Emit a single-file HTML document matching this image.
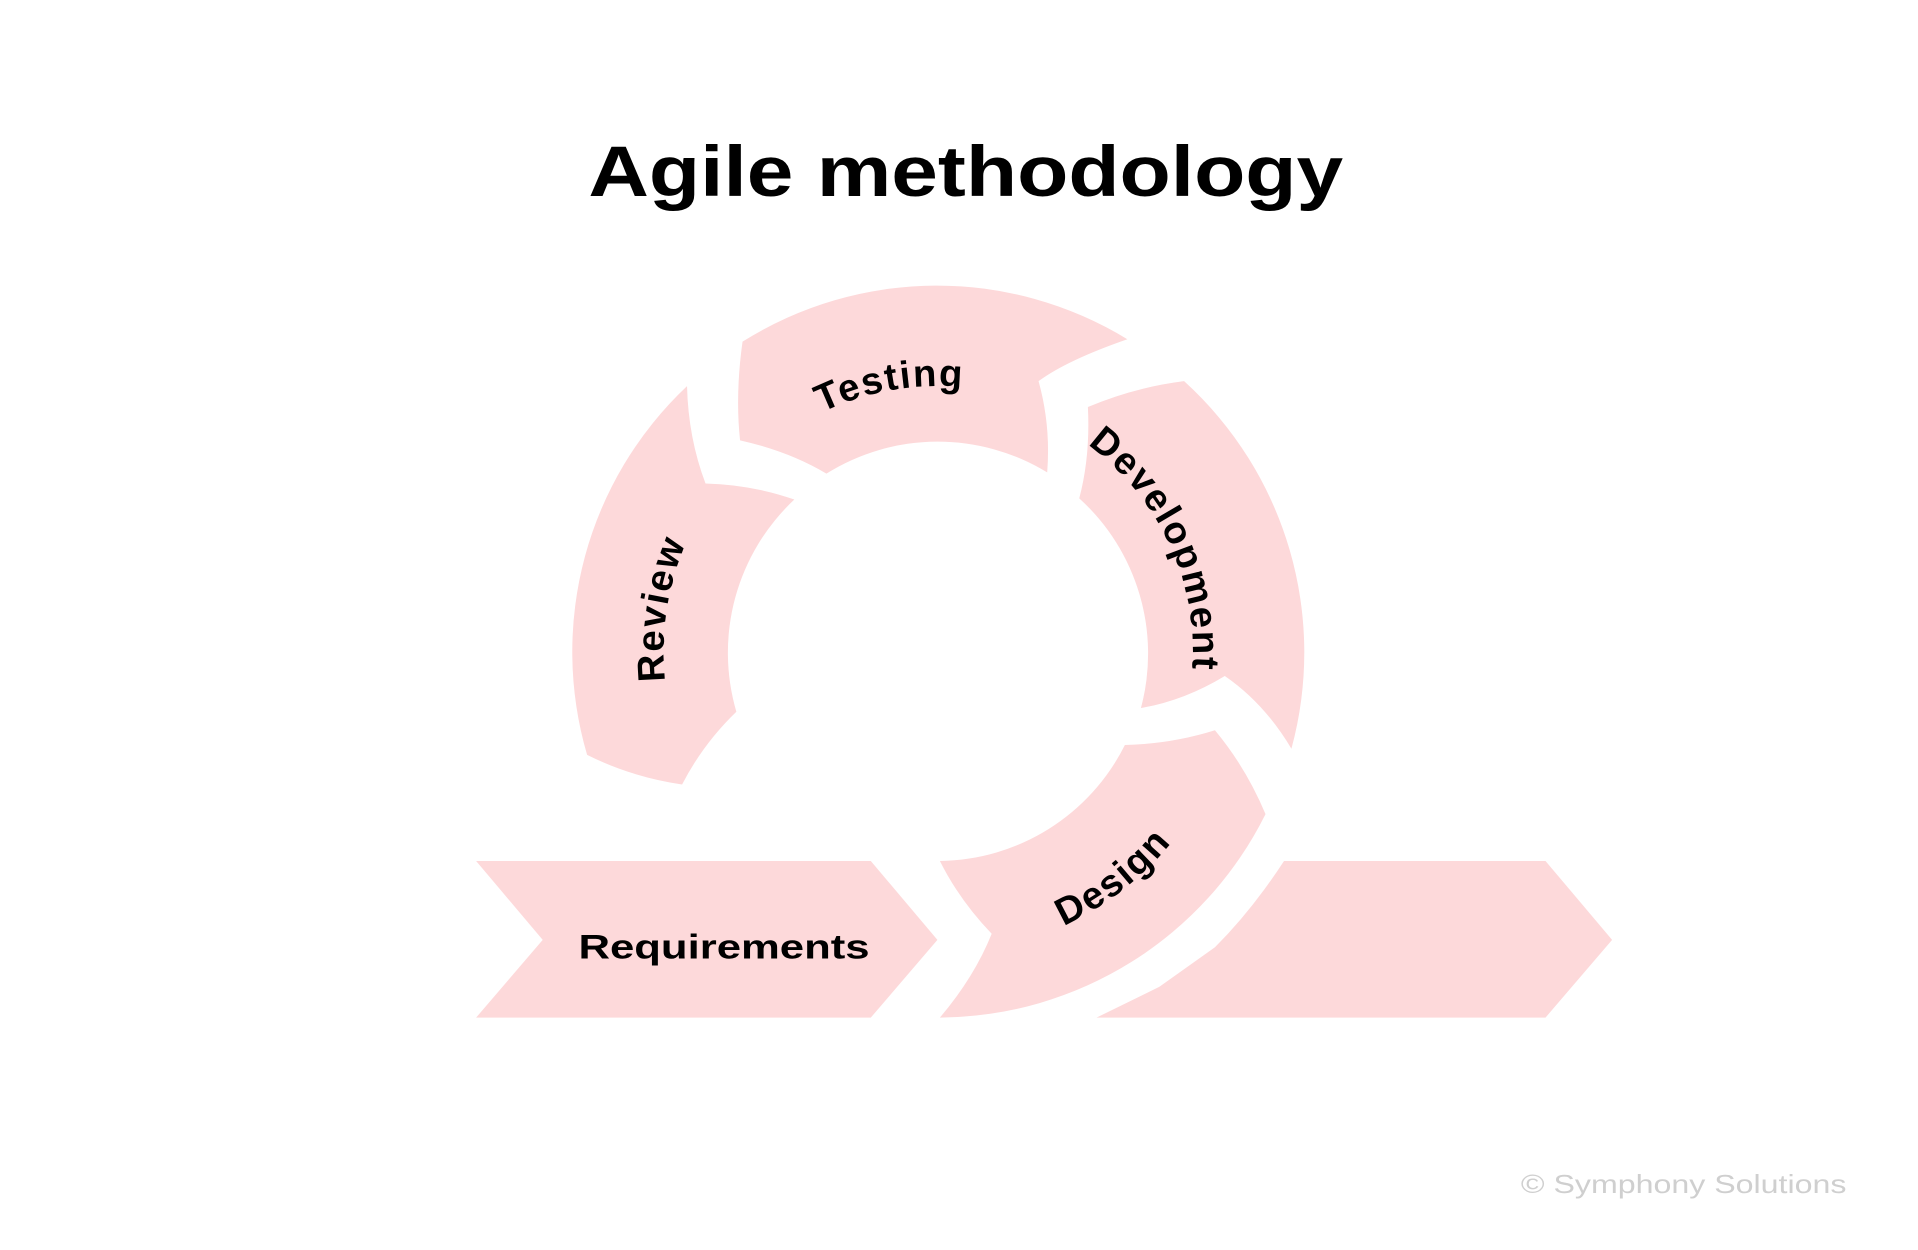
<!DOCTYPE html>
<html><head><meta charset="utf-8"><style>
html,body{margin:0;padding:0;background:#fff;}
svg{display:block;}
text{font-family:"Liberation Sans",sans-serif;font-weight:bold;}
</style></head><body>
<svg width="1918" height="1250" viewBox="0 0 1555 1013.4" xmlns="http://www.w3.org/2000/svg">
<defs>
<path id="cw" d="M760,750 A222,222 0 1 1 760,306 A222,222 0 1 1 760,750"/>
<path id="cwt" d="M760,743 A215,215 0 1 1 760,313 A215,215 0 1 1 760,743"/>
<path id="cwd" d="M760,735 A207,207 0 1 1 760,321 A207,207 0 1 1 760,735"/>
<path id="ccw" d="M760,773 A245,245 0 1 0 760,283 A245,245 0 1 0 760,773"/>
</defs>
<text x="783" y="159" text-anchor="middle" font-size="58" textLength="612" lengthAdjust="spacingAndGlyphs" fill="#000">Agile methodology</text>
<g fill="#fdd9da">
<path d="M602,277 A296,296 0 0 1 914,275 Q865,292 842,309 Q852,345 849,383 A170,170 0 0 0 670,384 Q640,366 600,357 Q596,320 602,277 Z"/>
<path d="M882,330 Q920,314 960,309 A297,297 0 0 1 1047,607 Q1025,570 993,548 Q960,568 925,574 A170,170 0 0 0 875,404 Q884,370 882,330 Z"/>
<path d="M557,313 Q558,355 572,392 Q610,393 644,405 A170,170 0 0 0 597,577 Q570,603 553,636 Q512,630 476,612 A296,296 0 0 1 557,313 Z"/>
<path d="M912,604 Q950,603 985,592 Q1010,622 1026,660 A297,297 0 0 1 762,825 Q790,792 804,757 Q778,730 762,698 A170,170 0 0 0 912,604 Z"/>
<polygon points="386,698 706,698 760,762 706,825 386,825 440,762"/>
<path d="M1041,698 L1253,698 L1307,762 L1253,825 L889,825 L940,800 L985,768 Q1015,738 1041,698 Z"/>
</g>
<g font-size="31" fill="#000" letter-spacing="1.5">
<text><textPath href="#cwt" startOffset="47.2%" text-anchor="middle">Testing</textPath></text>
<text><textPath href="#cwd" startOffset="68.1%" text-anchor="middle">Development</textPath></text>
<text><textPath href="#cw" startOffset="27.4%" text-anchor="middle">Review</textPath></text>
<text><textPath href="#ccw" startOffset="10.5%" text-anchor="middle">Design</textPath></text>
</g>
<text x="587" y="777" font-size="28" text-anchor="middle" textLength="236" lengthAdjust="spacingAndGlyphs">Requirements</text>
<text x="1365" y="967" text-anchor="middle" font-size="21" fill="#cfcfcf" style="font-weight:normal" textLength="264" lengthAdjust="spacingAndGlyphs">© Symphony Solutions</text>
</svg>
</body></html>
